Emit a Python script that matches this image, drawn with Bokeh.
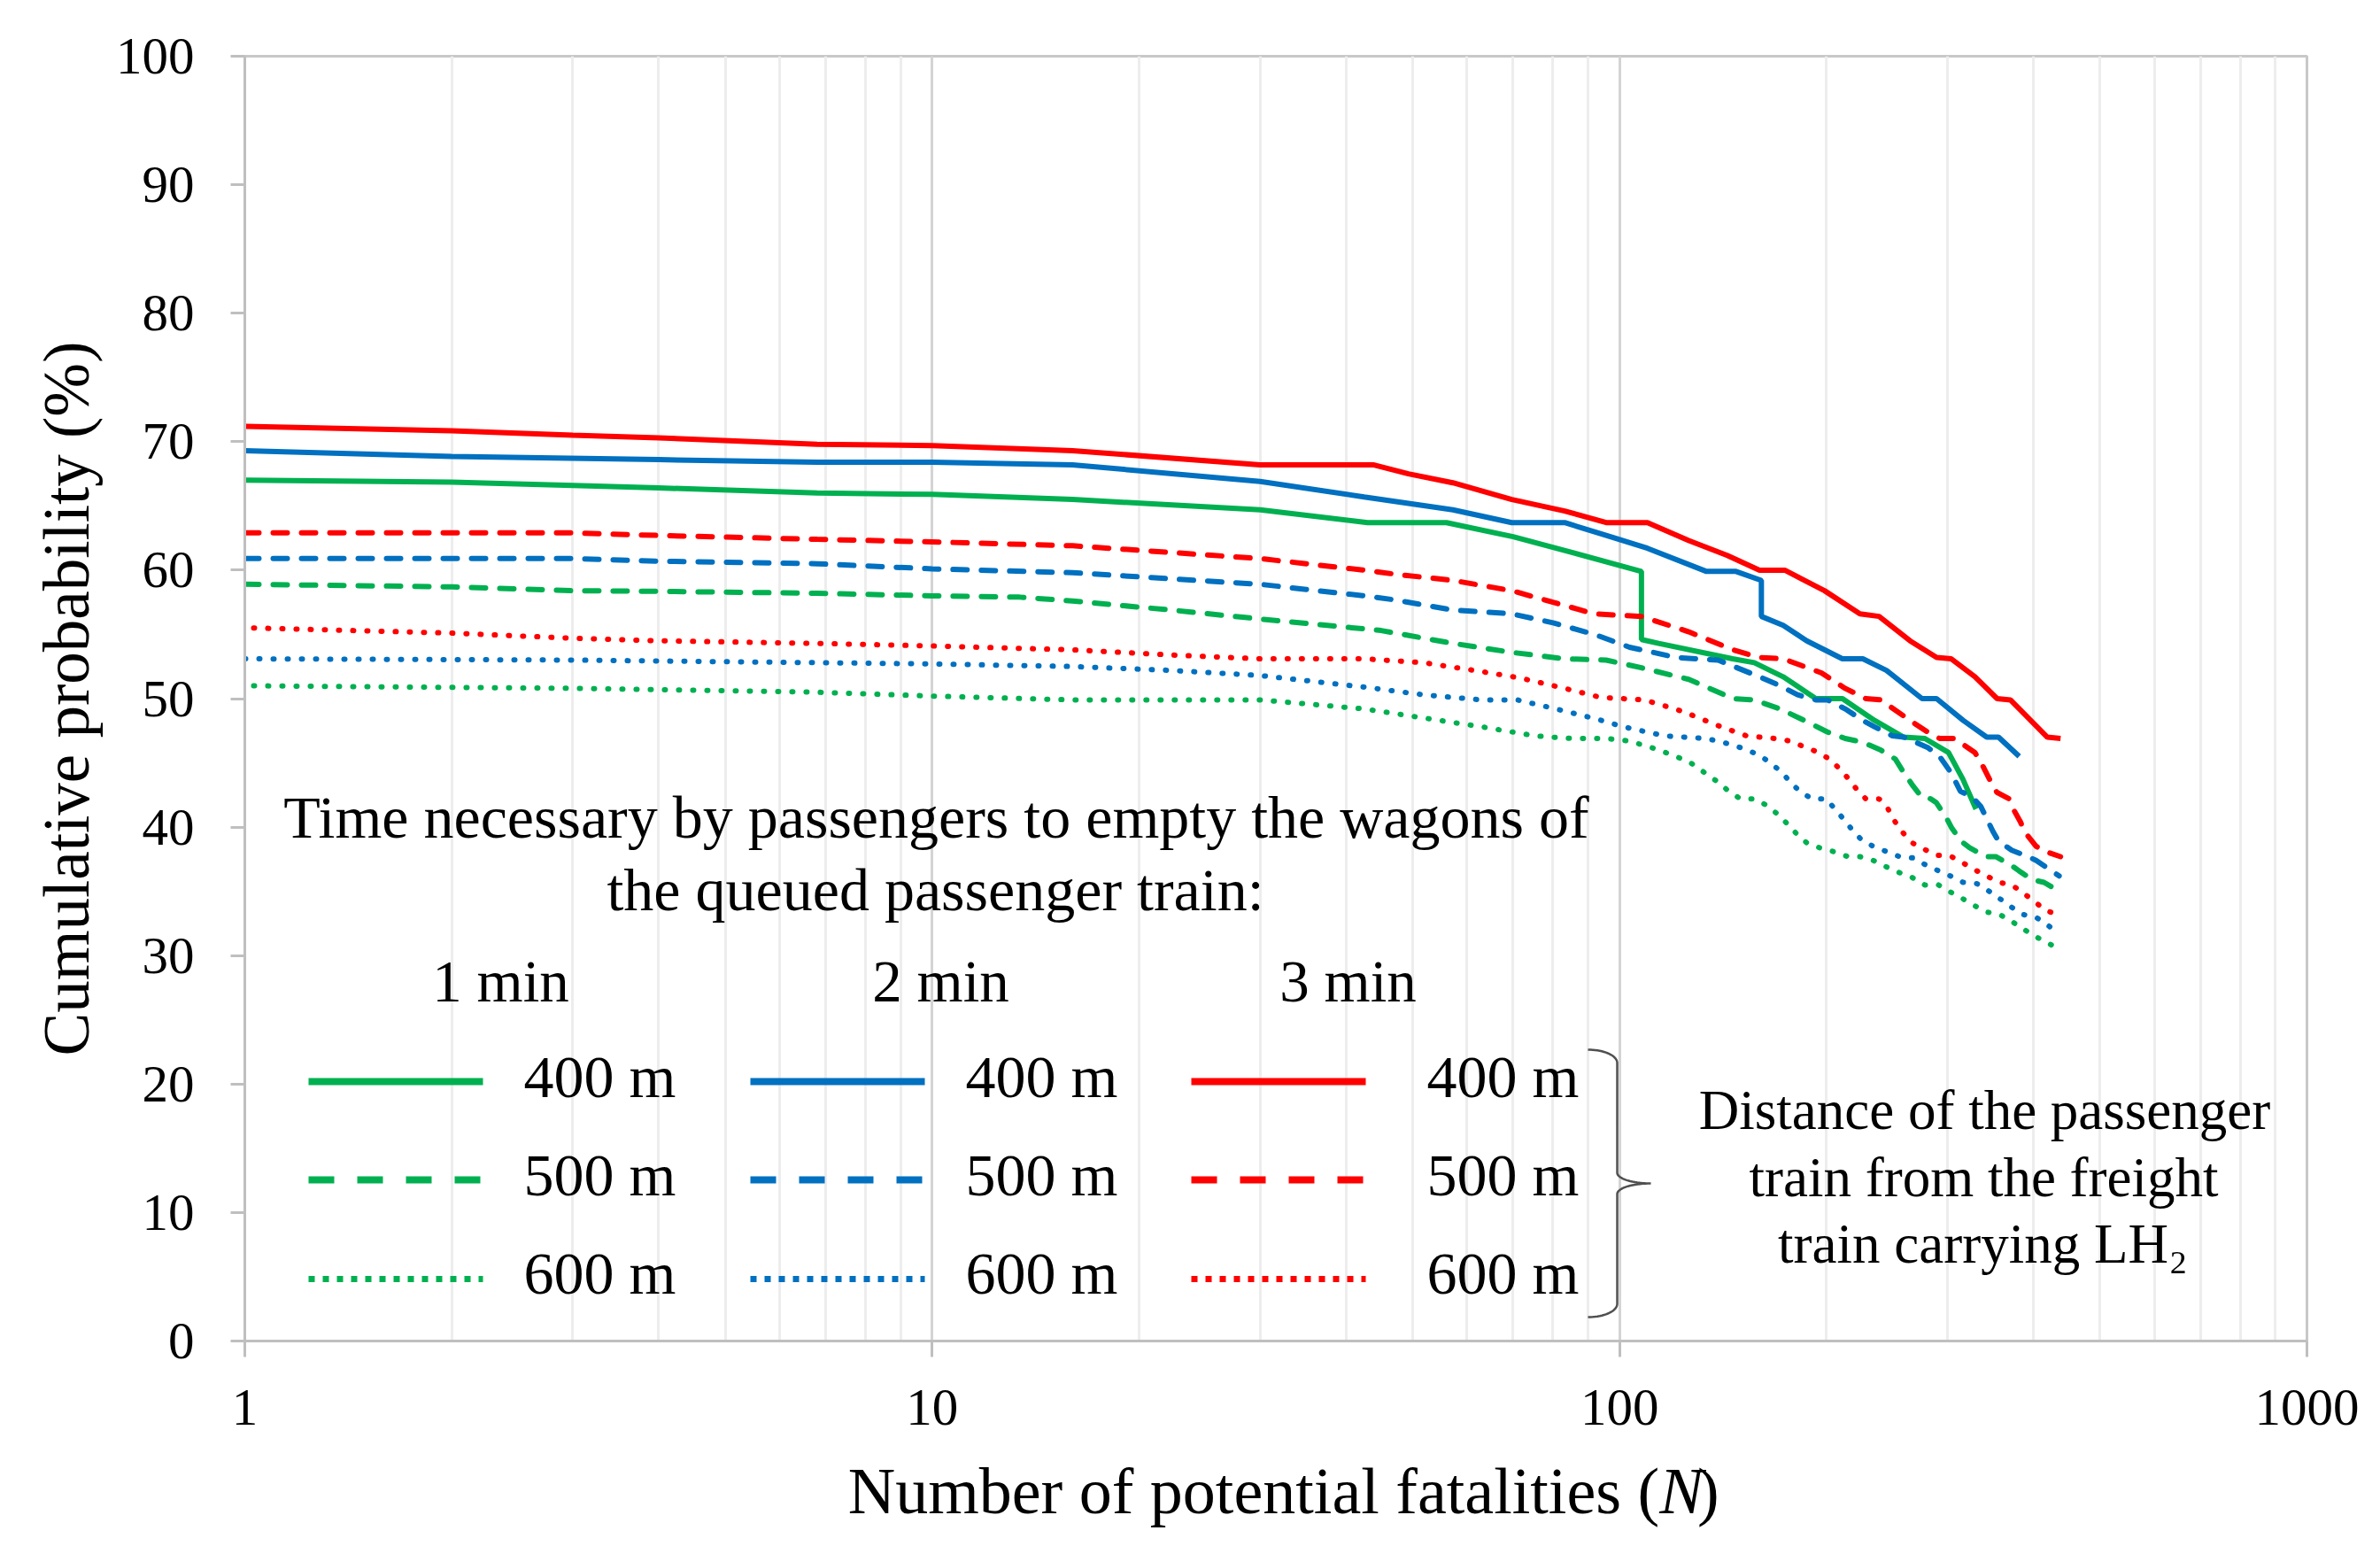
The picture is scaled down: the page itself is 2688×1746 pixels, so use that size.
import numpy as np
from bokeh.plotting import figure
from bokeh.layouts import column
from bokeh.models import Range1d, FixedTicker, NumeralTickFormatter, Label
from bokeh.core.properties import value
from bokeh.embed import file_html
from bokeh.resources import INLINE

# ---------------- data ----------------
# 1 min
n_1min_400 = [1, 2, 3, 4, 6.8, 10, 16, 30, 43, 56, 70, 85, 107.6, 107.6, 114, 146, 157, 173, 193, 211, 235, 259, 278, 301, 316, 330]
p_1min_400 = [67.0, 66.85, 66.6, 66.4, 66.0, 65.9, 65.5, 64.7, 63.7, 63.7, 62.6, 61.4, 59.9, 54.6, 54.3, 53.1, 52.8, 51.7, 50.0, 50.0, 48.3, 47.0, 46.9, 45.8, 43.7, 41.4]

n_1min_500 = [1, 2, 3, 4, 6.8, 10, 13.4, 16, 22.2, 30, 45, 57.2, 69.7, 83.2, 95.6, 107.6, 126.1, 146.2, 157, 171.2, 189, 200.7, 212.9, 225.9, 239.8, 251.8, 259.4, 267.3, 275.4, 283.6, 289, 299, 304.5, 314, 323, 341, 352.6, 372, 381, 398.6, 414.4, 436]
p_1min_500 = [58.9, 58.7, 58.4, 58.35, 58.2, 58.0, 57.9, 57.6, 56.9, 56.2, 55.3, 54.3, 53.6, 53.1, 53.0, 52.4, 51.5, 50.0, 49.9, 49.2, 48.1, 47.4, 46.9, 46.6, 46.0, 45.3, 44.2, 43.2, 42.3, 42.2, 41.9, 40.7, 39.9, 38.9, 38.4, 37.7, 37.7, 37.0, 36.6, 35.9, 35.7, 35.0]

n_1min_600 = [1.03, 3, 6.8, 10, 16, 30, 42.5, 51.8, 63.1, 75.4, 84.9, 95.6, 103.4, 114.2, 126.1, 139.1, 144.8, 150, 156.6, 163.7, 169.9, 175.8, 181.5, 187, 195.3, 204.6, 215, 223.7, 234, 244.5, 254, 266, 277.9, 291, 301.7, 314, 328, 341, 357, 371, 386, 402, 419, 436]
p_1min_600 = [51.0, 50.8, 50.5, 50.2, 49.9, 49.9, 49.2, 48.5, 47.8, 47.1, 46.9, 46.9, 46.7, 46.0, 45.1, 43.5, 42.7, 42.2, 42.2, 41.7, 41.0, 40.2, 39.4, 38.8, 38.4, 38.1, 37.7, 37.7, 37.4, 36.9, 36.5, 36.1, 35.5, 35.5, 35.0, 34.5, 33.9, 33.4, 33.2, 32.7, 32.1, 31.5, 31.0, 30.5]

# 2 min
n_2min_400 = [1, 2, 4, 6.8, 10, 16, 30, 42.5, 57.2, 69.7, 83.2, 95.6, 109.8, 133.8, 147.7, 160.8, 160.8, 173, 187.2, 210.9, 225.9, 244.5, 275.4, 289.2, 316.2, 342.1, 355.9, 381.4]
p_2min_400 = [69.3, 68.85, 68.6, 68.4, 68.4, 68.2, 66.9, 65.7, 64.7, 63.7, 63.7, 62.7, 61.7, 59.9, 59.9, 59.2, 56.4, 55.7, 54.5, 53.1, 53.1, 52.2, 50.0, 50.0, 48.3, 47.0, 47.0, 45.5]

n_2min_500 = [1, 3, 4, 6.8, 10, 16, 30, 42.5, 46.9, 57.2, 69.7, 80, 91.9, 103.4, 121, 139.1, 159.8, 171.2, 181.5, 192.9, 200.7, 212.9, 225.9, 235, 249.4, 259.4, 280.7, 292.1, 303.8, 313.1, 326.3, 335.4, 349, 356, 372, 393, 403.7, 436]
p_2min_500 = [60.9, 60.9, 60.7, 60.5, 60.1, 59.8, 58.9, 58.0, 57.7, 56.9, 56.6, 55.9, 55.0, 54.0, 53.2, 53.0, 51.7, 51.0, 50.3, 49.9, 49.9, 49.2, 48.3, 47.8, 47.1, 47.0, 46.2, 45.5, 44.2, 42.8, 42.3, 41.6, 39.7, 38.9, 38.2, 37.7, 37.4, 36.2]

n_2min_600 = [1, 3, 6.8, 10, 16, 22.2, 30, 42.5, 51.8, 63.1, 71, 80.8, 92.8, 101.4, 116.4, 133.8, 146.2, 153.3, 159.8, 165.6, 172, 177.2, 183.5, 190.8, 199.8, 205.8, 212, 218.6, 225, 234, 244.5, 255.5, 267.3, 277.9, 291, 302.8, 316, 331, 345, 358, 371, 386, 403, 419, 435]
p_2min_600 = [53.1, 53.0, 52.8, 52.7, 52.5, 52.2, 51.8, 50.9, 50.3, 49.9, 49.9, 49.2, 48.4, 47.8, 47.1, 46.9, 46.4, 46.0, 45.6, 45.0, 44.3, 43.5, 42.7, 42.2, 42.2, 41.4, 40.6, 39.7, 39.0, 38.5, 38.1, 37.7, 37.6, 37.1, 36.6, 36.2, 35.7, 35.6, 35.0, 34.4, 33.8, 33.2, 33.0, 32.4, 31.7]

# 3 min
n_3min_400 = [1, 2, 3, 4, 6.8, 10, 16, 30, 43.8, 49.3, 57.2, 69.7, 83.2, 95.6, 109.8, 126.1, 143.4, 159.8, 173.9, 198.7, 223.7, 238.5, 264.6, 289.2, 303.8, 328.9, 354.2, 370.3, 419.1, 438.1]
p_3min_400 = [71.2, 70.85, 70.5, 70.3, 69.8, 69.7, 69.3, 68.2, 68.2, 67.5, 66.8, 65.5, 64.6, 63.7, 63.7, 62.3, 61.15, 60.0, 60.0, 58.4, 56.6, 56.4, 54.5, 53.2, 53.1, 51.7, 50.0, 49.9, 47.0, 46.9]

n_3min_500 = [1, 3, 4, 6.8, 10, 16, 30, 42.5, 46.9, 57.2, 69.7, 80, 91.9, 107.6, 126.1, 146.2, 159.8, 173, 196.7, 212.9, 228.2, 239.8, 264.6, 280.7, 292.1, 306.9, 328.9, 338.8, 347, 354, 368.6, 374, 383, 388.8, 403.7, 416.5, 438]
p_3min_500 = [62.9, 62.9, 62.7, 62.4, 62.2, 61.9, 60.9, 60.0, 59.7, 59.2, 58.4, 57.5, 56.6, 56.4, 55.2, 53.8, 53.2, 53.1, 52.0, 50.8, 50.0, 49.9, 48.3, 47.4, 46.9, 46.9, 45.8, 44.6, 43.5, 42.7, 42.2, 41.4, 40.4, 39.6, 38.5, 38.1, 37.7]

n_3min_600 = [1.03, 2, 3, 4, 6.8, 10, 16, 22.2, 30, 42.5, 51.8, 63.1, 71.8, 83.2, 93.7, 108.8, 123.6, 139.1, 153, 168, 177.2, 184.6, 192.9, 202, 208.4, 215, 221.6, 228.2, 238.5, 245.9, 251.8, 258, 266, 277, 289, 301.7, 314, 328, 342, 356, 372, 386, 401.6, 417, 435]
p_3min_600 = [55.5, 55.1, 54.7, 54.5, 54.3, 54.1, 53.8, 53.4, 53.1, 53.1, 52.8, 52.1, 51.6, 50.8, 50.1, 49.9, 49.0, 47.9, 47.1, 46.9, 46.7, 46.3, 45.9, 45.3, 44.6, 43.8, 42.9, 42.2, 42.2, 41.4, 40.4, 39.6, 38.8, 38.3, 37.8, 37.8, 37.3, 36.7, 36.2, 35.7, 35.5, 34.9, 34.2, 33.5, 33.2]

y_ticks = [0, 10, 20, 30, 40, 50, 60, 70, 80, 90, 100]
x_ticks = [1, 10, 100, 1000]
x_minor = [2, 3, 4, 5, 6, 7, 8, 9, 20, 30, 40, 50, 60, 70, 80, 90, 200, 300, 400, 500, 600, 700, 800, 900]

time_labels = ["1 min", "2 min", "3 min"]
dist_labels = ["400 m", "500 m", "600 m"]
colors = ["#00B050", "#0070C0", "#FF0000"]

series = [
    (n_1min_400, p_1min_400, 0, 0), (n_1min_500, p_1min_500, 0, 1), (n_1min_600, p_1min_600, 0, 2),
    (n_2min_400, p_2min_400, 1, 0), (n_2min_500, p_2min_500, 1, 1), (n_2min_600, p_2min_600, 1, 2),
    (n_3min_400, p_3min_400, 2, 0), (n_3min_500, p_3min_500, 2, 1), (n_3min_600, p_3min_600, 2, 2),
]

FONT = "Liberation Serif"
W, H_MAIN, H_TITLE = 2672, 1640, 90
BASE_SHIFT = 0.33  # empirical baseline correction (fraction of font size)

# ---------------- main figure ----------------
# frame (figure pixels): left 276, right 2605, top 63, bottom 1514
p = figure(width=W, height=H_MAIN, x_axis_type="log",
           x_range=Range1d(1, 1000), y_range=Range1d(0, 100),
           output_backend="svg", toolbar_location=None,
           min_border_left=276, min_border_right=W - 2605,
           min_border_top=63, min_border_bottom=H_MAIN - 1514)
p.background_fill_color = "white"
p.border_fill_color = "white"
p.outline_line_color = "#c8c8c8"
p.outline_line_width = 3

FX0, FX1, FY0, FY1 = 276.0, 2605.0, 1514.0, 63.0
def dx(px):
    return 10 ** (3.0 * (px - FX0) / (FX1 - FX0))
def dy(py):
    return 100.0 * (FY0 - py) / (FY0 - FY1)

for ax in (p.xaxis[0], p.yaxis[0]):
    ax.axis_line_color = "#bfbfbf"
    ax.axis_line_width = 3
    ax.major_tick_line_color = "#bfbfbf"
    ax.major_tick_line_width = 3
    ax.major_tick_in = 0
    ax.minor_tick_line_color = None
    ax.major_label_text_font = FONT
    ax.major_label_text_font_size = "59px"
    ax.major_label_text_color = "black"

p.xaxis.ticker = FixedTicker(ticks=x_ticks, minor_ticks=x_minor)
p.xaxis.formatter = NumeralTickFormatter(format="0")
p.xaxis.major_tick_out = 18
p.xaxis.major_label_standoff = 37

p.yaxis.ticker = FixedTicker(ticks=y_ticks)
p.yaxis.major_tick_out = 16
p.yaxis.major_label_standoff = 41
p.yaxis.axis_label = "Cumulative probability (%)"
p.yaxis.axis_label_text_font = FONT
p.yaxis.axis_label_text_font_size = "73px"
p.yaxis.axis_label_text_font_style = "normal"
p.yaxis.axis_label_text_color = "black"
p.yaxis.axis_label_standoff = 12

p.ygrid.grid_line_color = None
p.xgrid.grid_line_color = "#d4d4d4"
p.xgrid.grid_line_width = 3
p.xgrid.minor_grid_line_color = "#ededed"
p.xgrid.minor_grid_line_width = 3

# data lines
for xs, ys, ci, di in series:
    kw = dict(line_color=colors[ci], line_width=6)
    if di == 1:
        kw.update(line_dash="16 16", line_cap="round")
    elif di == 2:
        kw.update(line_dash="1 15", line_cap="round")
    p.line(xs, ys, **kw)

# custom legend
def lbl(x_px, base_px, text, size, align="left", style="normal"):
    y_px = base_px - BASE_SHIFT * size
    p.add_layout(Label(x=dx(x_px), y=dy(y_px), text=text, text_font=FONT,
                       text_font_size=f"{size}px", text_align=align,
                       text_baseline="alphabetic", text_color="black",
                       text_font_style=style))

lbl(1057, 945, "Time necessary by passengers to empty the wagons of", 68, "center")
lbl(1056, 1027, "the queued passenger train:", 68, "center")

head_cx = [565, 1062, 1522]
samp_x = [(348, 545), (847, 1044), (1345, 1542)]
text_x = [591, 1090, 1611]
row_y = [1221, 1332, 1444]
row_base = [1238, 1349, 1460]

for ci in range(3):
    lbl(head_cx[ci], 1130, time_labels[ci], 67, "center")
    for di in range(3):
        kw = dict(line_color=colors[ci], line_width=8)
        if di == 1:
            kw.update(line_dash="29 26")
        elif di == 2:
            kw.update(line_dash="7 9", line_width=7)
        x0, x1 = samp_x[ci]
        p.line([dx(x0), dx(x1)], [dy(row_y[di]), dy(row_y[di])], **kw)
        lbl(text_x[ci], row_base[di], dist_labels[di], 68, "left")

def brace(x0, xv, xt, ytop, ymid, ybot, r=15, r2=12):
    tt = np.linspace(0, np.pi / 2, 20)
    xs, ys = [], []
    xs += list(x0 + (xv - x0) * np.sin(tt)); ys += list(ytop + r * (1 - np.cos(tt)))
    xs += list(xv + (xt - xv) * (1 - np.cos(tt))); ys += list(ymid - r2 + r2 * np.sin(tt))
    xs += list(xv + (xt - xv) * (1 - np.cos(tt[::-1]))); ys += list(ymid + r2 - r2 * np.sin(tt[::-1]))
    xs += list(x0 + (xv - x0) * np.sin(tt[::-1])); ys += list(ybot - r * (1 - np.cos(tt[::-1])))
    return xs, ys

bx, by = brace(1793, 1826, 1864, 1185, 1336, 1487)
p.line([dx(v) for v in bx], [dy(v) for v in by], line_color="#505050", line_width=2.5)

lbl(2241, 1274, "Distance of the passenger", 63, "center")
lbl(2240, 1350, "train from the freight", 63, "center")
lbl(2239, 1425, "train carrying LH\u2082", 63, "center")

# ---------------- x-axis title strip (mixed upright / italic) ----------------
t = figure(width=W, height=H_TITLE, x_range=Range1d(0, W), y_range=Range1d(0, H_TITLE),
           output_backend="svg", toolbar_location=None, min_border=0)
t.axis.visible = False
t.grid.visible = False
t.outline_line_color = None
t.background_fill_color = "white"
t.border_fill_color = "white"

TS = 74
base_local = 1708 - H_MAIN - BASE_SHIFT * TS   # from the top of the strip
ty = H_TITLE - base_local
common = dict(text_font=value(FONT), text_font_size=value(f"{TS}px"),
              text_baseline="alphabetic", text_color="black")
t.text(x=[1833], y=[ty], text=["Number of potential fatalities ("], text_align="right", **common)
t.text(x=[1833], y=[ty], text=["N"], text_align="left", text_font_style="italic", **common)
t.text(x=[1882], y=[ty], text=[")"], text_align="left", **common)

layout = column(p, t, spacing=0)
open("out.html", "w").write(file_html(layout, INLINE))
